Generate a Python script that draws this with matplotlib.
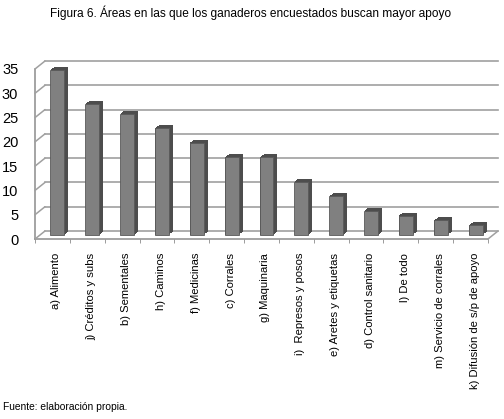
import numpy as np
import matplotlib
matplotlib.use("Agg")
import matplotlib.pyplot as plt
from matplotlib.transforms import offset_copy, ScaledTranslation

plt.rcParams["font.family"] = ["Liberation Sans", "DejaVu Sans"]

categories = ["a) Alimento", "j) Créditos y subs", "b) Sementales", "h) Caminos",
              "f) Medicinas", "c) Corrales", "g) Maquinaria", "i)  Represos y posos",
              "e) Aretes y etiquetas", "d) Control sanitario", "l) De todo",
              "m) Servicio de corrales", "k) Difusión de s/p de apoyo"]
values = [34, 27, 25, 22, 19, 16, 16, 11, 8, 5, 4, 3, 2]
yticks = [0, 5, 10, 15, 20, 25, 30, 35]

W, H, DPI = 504, 419, 100
fig = plt.figure(figsize=(W / DPI, H / DPI), dpi=DPI)
ax = fig.add_axes([35 / W, (H - 239) / H, 453 / W, 170 / H])
x = np.arange(len(categories))
ax.set_xlim(-0.5, len(categories) - 0.5)
ax.set_ylim(0, 35)

grid_c = "#a0a0a0"
wall_dx, wall_dy = 10, 8      # depth of the back wall, pixels
bar_dx, bar_dy = 4, 3         # depth of each bar, pixels

# back wall gridlines and left wall diagonals
back = offset_copy(ax.transData, fig, x=wall_dx, y=wall_dy, units="dots")
for v in yticks:
    ax.plot([-0.5, len(categories) - 0.5], [v, v], color=grid_c, lw=1.2,
            transform=back, clip_on=False, zorder=1)
    ax.annotate("", xy=(-0.5, v), xytext=(wall_dx * 72 / DPI, wall_dy * 72 / DPI),
                textcoords="offset points", annotation_clip=False,
                arrowprops=dict(arrowstyle="-", color=grid_c, lw=1.1, shrinkA=0, shrinkB=0))
ax.annotate("", xy=(len(categories) - 0.5, 0), xytext=(wall_dx * 72 / DPI, wall_dy * 72 / DPI),
            textcoords="offset points", annotation_clip=False,
            arrowprops=dict(arrowstyle="-", color=grid_c, lw=1.1, shrinkA=0, shrinkB=0))

# bars: dark extrusion behind, then front face at mid depth
steps = 8
for k in range(steps, 0, -1):
    tr = offset_copy(ax.transData, fig, x=5 + bar_dx * k / steps,
                     y=4 + bar_dy * k / steps, units="dots")
    ax.bar(x, values, width=0.4, color="#4d4d4d", transform=tr, zorder=2, clip_on=False)
front = offset_copy(ax.transData, fig, x=5, y=4, units="dots")
ax.bar(x, values, width=0.4, color="#808080", edgecolor="#5a5a5a", lw=0.6,
       transform=front, zorder=3, clip_on=False)

for s in ["top", "right"]:
    ax.spines[s].set_visible(False)
for s in ["left", "bottom"]:
    ax.spines[s].set_color("#8c8c8c")
    ax.spines[s].set_linewidth(1.1)

ax.set_yticks(yticks)
ax.set_yticklabels([str(v) for v in yticks], fontsize=10.5)
ax.tick_params(axis="y", length=0, pad=12)
ax.set_xticks(x)
ax.set_xticklabels(categories, rotation=90, fontsize=8.1)
ax.tick_params(axis="x", which="major", length=0, pad=10)
ax.set_xticks(np.arange(len(categories) + 1) - 0.5, minor=True)
ax.tick_params(axis="x", which="minor", length=3, color="#8c8c8c")
shift = ScaledTranslation(4 / DPI, 0, fig.dpi_scale_trans)
for lbl in ax.get_xticklabels():
    lbl.set_transform(lbl.get_transform() + shift)

fig.text(251 / W, 1 - 13 / H, "Figura 6. Áreas en las que los ganaderos encuestados buscan mayor apoyo",
         ha="center", va="center", fontsize=8.6)
fig.text(3 / W, 1 - 407 / H, "Fuente: elaboración propia.", ha="left", va="center", fontsize=7.4)

fig.savefig("out.png", dpi=DPI)
